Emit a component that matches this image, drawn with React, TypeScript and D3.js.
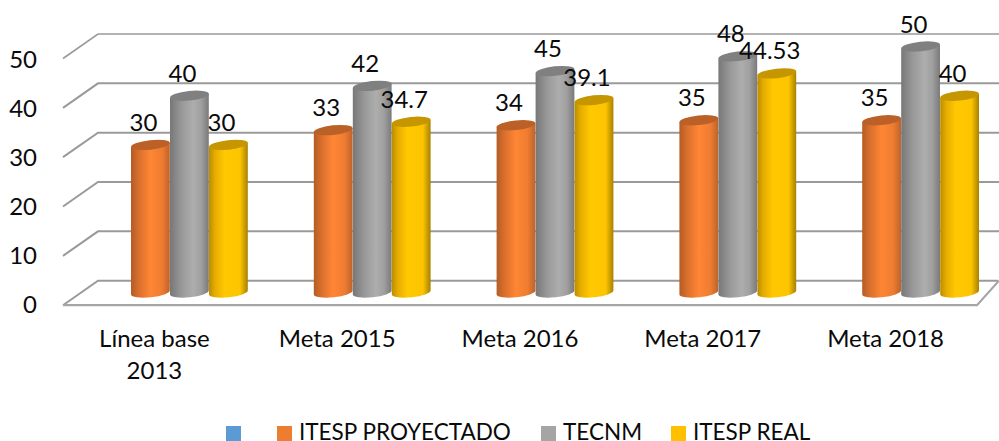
import React from 'react';
import * as d3 from 'd3';

const categories = ['Línea base 2013', 'Meta 2015', 'Meta 2016', 'Meta 2017', 'Meta 2018'];
const proyectado = [30, 33, 34, 35, 35];
const tecnm = [40, 42, 45, 48, 50];
const real = [30, 34.7, 39.1, 44.53, 40];
const ticks = [0, 10, 20, 30, 40, 50];
const legendNames = ['', 'ITESP PROYECTADO', 'TECNM', 'ITESP REAL'];
const legendColors = ['#5b9bd5', '#ed7d31', '#a5a5a5', '#ffc000'];

const width = 999, height = 441;
const font = 'Lato, "Open Sans", sans-serif';

// wall / floor geometry of the fake 3d box
const depthX = 35, depthY = 24.5;
const rightEnd = 977;

const x = d3.scaleBand().domain(categories).range([63, rightEnd]);
const seriesX = d3.scaleBand().domain(['p', 't', 'r']).range([-58.5, 58.5]);
const backY = d3.scaleLinear().domain([0, 50]).range([280.7, 34]);
const barY = d3.scaleLinear().domain([0, 50]).range([292.5, 46.5]);
const tickY = d3.scaleLinear().domain([0, 50]).range([312.7, 68]);

const series = [
  { key: 'p', values: proyectado, grad: 'g-orange', top: '#bb6128' },
  { key: 't', values: tecnm, grad: 'g-gray', top: '#808080' },
  { key: 'r', values: real, grad: 'g-yellow', top: '#c59600' },
];

const rx = 19.5, ry = 4.8, tilt = -6;
const cosT = Math.cos(tilt * Math.PI / 180), sinT = Math.sin(tilt * Math.PI / 180);

function cylinder(cx: number, yTop: number) {
  const dx = rx * cosT, dy = rx * sinT;
  const yBase = barY(0);
  return `M${cx - dx},${yTop - dy}L${cx + dx},${yTop + dy}`
    + `L${cx + dx},${yBase + dy}A${rx},${ry} ${tilt} 0 1 ${cx - dx},${yBase - dy}Z`;
}

function Grad({ id, stops }: { id: string; stops: [number, string][] }) {
  return (
    <linearGradient id={id} x1="0" x2="1" y1="0" y2="0">
      {stops.map(([o, c]) => <stop key={o} offset={o} stopColor={c} />)}
    </linearGradient>
  );
}

export default function App() {
  const gridColor = '#9a9a9a';
  const legendBox = [226, 277, 541, 671];
  return (
    <svg width={width} height={height} style={{ position: 'absolute', left: 0, top: 0, display: 'block' }} fontFamily={font}>
      <defs>
        <Grad id="g-orange" stops={[[0, '#b45c25'], [0.2, '#d96f2d'], [0.5, '#ff8635'], [0.8, '#ee7c31'], [1, '#bd632a']]} />
        <Grad id="g-gray" stops={[[0, '#777777'], [0.3, '#999999'], [0.6, '#adadad'], [0.8, '#a0a0a0'], [1, '#7a7a7a']]} />
        <Grad id="g-yellow" stops={[[0, '#b98d00'], [0.15, '#e5ac00'], [0.4, '#ffc800'], [0.8, '#fdc500'], [1, '#a88000']]} />
      </defs>

      {ticks.map(t => (
        <path key={t}
          d={d3.line()([[63, backY(t) + depthY], [63 + depthX, backY(t)], [t === 0 ? rightEnd + 21 : width, backY(t)]]) as string}
          fill="none" stroke={gridColor} strokeWidth={t === 50 ? 1.6 : 2} />
      ))}
      <path d={d3.line()([[63, backY(0) + depthY], [rightEnd, backY(0) + depthY], [rightEnd + 22, backY(0)]]) as string}
        fill="none" stroke="#a6a6a6" strokeWidth={2.2} />

      {ticks.map(t => (
        <text key={t} x={37} y={tickY(t)} textAnchor="end" fontSize={24} fill="#0a0a0a">{t}</text>
      ))}

      {categories.map((c, i) => {
        const center = (x(c) as number) + x.bandwidth() / 2;
        return (
          <g key={c}>
            {series.map(s => {
              const cx = center + depthX + (seriesX(s.key) as number) + seriesX.bandwidth() / 2;
              const yTop = barY(s.values[i]);
              return (
                <g key={s.key}>
                  <path d={cylinder(cx, yTop)} fill={`url(#${s.grad})`} />
                  <ellipse cx={cx} cy={yTop} rx={rx} ry={ry} fill={s.top} transform={`rotate(${tilt} ${cx} ${yTop})`} />
                </g>
              );
            })}
          </g>
        );
      })}

      {categories.map((c, i) => {
        const center = (x(c) as number) + x.bandwidth() / 2;
        return series.map(s => (
          <text key={c + s.key}
            x={center + depthX + (seriesX(s.key) as number) + seriesX.bandwidth() / 2 - 7}
            y={barY(s.values[i]) - 14}
            textAnchor="middle" fontSize={24} fill="#0a0a0a">{s.values[i]}</text>
        ));
      })}

      {categories.map(c => {
        const center = (x(c) as number) + x.bandwidth() / 2;
        const words = c === 'Línea base 2013' ? ['Línea base', '2013'] : [c];
        return (
          <text key={c} textAnchor="middle" fontSize={24} fill="#0a0a0a">
            {words.map((w, k) => <tspan key={w} x={center} y={347 + k * 32}>{w}</tspan>)}
          </text>
        );
      })}

      {legendNames.map((n, i) => (
        <g key={i}>
          <rect x={legendBox[i]} y={426} width={15} height={15} fill={legendColors[i]} />
          <text x={legendBox[i] + 22} y={440} fontSize={22.5} fill="#0a0a0a">{n}</text>
        </g>
      ))}
    </svg>
  );
}
